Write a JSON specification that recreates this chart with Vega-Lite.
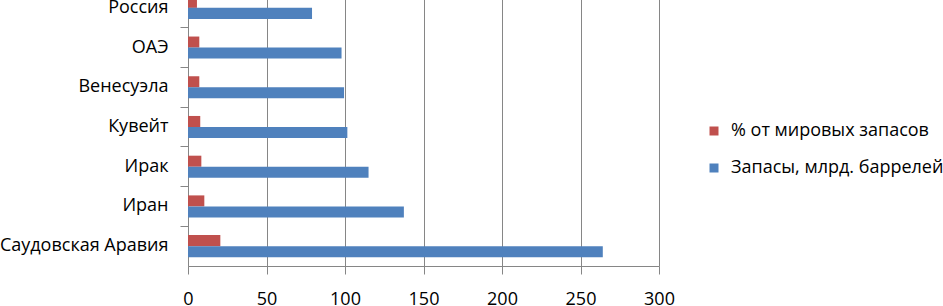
{
  "$schema": "https://vega.github.io/schema/vega-lite/v6.json",
  "width": 471,
  "height": 278,
  "autosize": "none",
  "padding": {"left": 188, "top": -12, "right": 284, "bottom": 40},
  "background": "white",
  "data": {"values": [
    {"country": "Россия", "series": "% от мировых запасов", "value": 5.7},
    {"country": "Россия", "series": "Запасы, млрд. баррелей", "value": 79},
    {"country": "ОАЭ", "series": "% от мировых запасов", "value": 7.2},
    {"country": "ОАЭ", "series": "Запасы, млрд. баррелей", "value": 97.8},
    {"country": "Венесуэла", "series": "% от мировых запасов", "value": 7.2},
    {"country": "Венесуэла", "series": "Запасы, млрд. баррелей", "value": 99.4},
    {"country": "Кувейт", "series": "% от мировых запасов", "value": 7.8},
    {"country": "Кувейт", "series": "Запасы, млрд. баррелей", "value": 101.5},
    {"country": "Ирак", "series": "% от мировых запасов", "value": 8.5},
    {"country": "Ирак", "series": "Запасы, млрд. баррелей", "value": 115},
    {"country": "Иран", "series": "% от мировых запасов", "value": 10.4},
    {"country": "Иран", "series": "Запасы, млрд. баррелей", "value": 137.5},
    {"country": "Саудовская Аравия", "series": "% от мировых запасов", "value": 20.6},
    {"country": "Саудовская Аравия", "series": "Запасы, млрд. баррелей", "value": 264.2}
  ]},
  "mark": {"type": "bar"},
  "encoding": {
    "y": {
      "field": "country", "type": "nominal",
      "sort": ["Россия", "ОАЭ", "Венесуэла", "Кувейт", "Ирак", "Иран", "Саудовская Аравия"],
      "scale": {"paddingInner": 0, "paddingOuter": 0},
      "axis": {"title": null, "bandPosition": 0, "grid": false, "domainColor": "#868686", "tickColor": "#868686", "tickSize": 8, "labelPadding": 12, "labelFont": "Open Sans", "labelFontSize": 18, "labelColor": "#000000", "labelFontWeight": "normal", "labelLimit": 0}
    },
    "yOffset": {
      "field": "series", "type": "nominal",
      "sort": ["% от мировых запасов", "Запасы, млрд. баррелей"],
      "scale": {"paddingInner": 0, "paddingOuter": 0.8}
    },
    "x": {
      "field": "value", "type": "quantitative",
      "scale": {"domain": [0, 300], "nice": false},
      "axis": {"title": null, "values": [0, 50, 100, 150, 200, 250, 300], "grid": true, "gridColor": "#868686", "gridWidth": 1, "domainColor": "#868686", "tickColor": "#868686", "tickSize": 8, "labelPadding": 16, "labelFont": "Open Sans", "labelFontSize": 18, "labelColor": "#000000", "labelFlush": false}
    },
    "color": {
      "field": "series", "type": "nominal",
      "sort": ["% от мировых запасов", "Запасы, млрд. баррелей"],
      "scale": {"range": ["#C0504D", "#4F81BD"]},
      "legend": {"title": null, "orient": "none", "legendX": 517, "legendY": 134, "symbolType": "square", "symbolSize": 81, "symbolStrokeWidth": 0, "rowPadding": 19, "labelFont": "Open Sans", "labelFontSize": 18, "labelColor": "#000000", "labelOffset": 8, "labelLimit": 0}
    }
  },
  "config": {"view": {"stroke": null}}
}
